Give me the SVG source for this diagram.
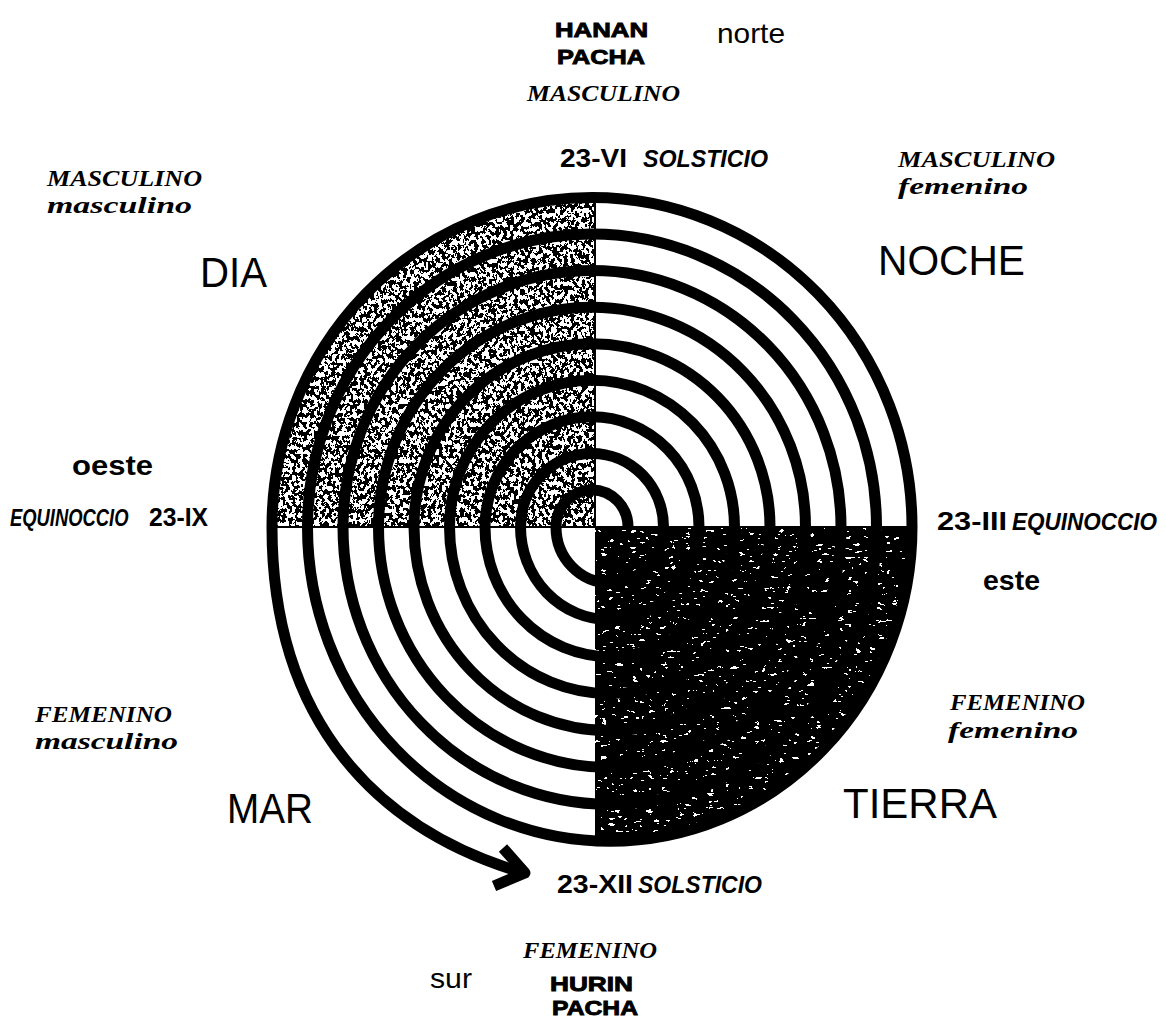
<svg xmlns="http://www.w3.org/2000/svg" width="1166" height="1020" viewBox="0 0 1166 1020">
  <defs>
    <filter id="stipple" x="0" y="0" width="1" height="1" color-interpolation-filters="sRGB">
      <feTurbulence type="fractalNoise" baseFrequency="0.28 0.22" numOctaves="3" seed="7" result="n"/>
      <feColorMatrix in="n" type="matrix" values="0 0 0 0 0  0 0 0 0 0  0 0 0 0 0  1 0 0 0 0" result="a"/>
      <feComponentTransfer in="a" result="t"><feFuncA type="discrete" tableValues="0 0 0 0 0 1 1 1 1 1"/></feComponentTransfer>
      <feComposite in="t" in2="SourceGraphic" operator="in"/>
    </filter>
    <filter id="specks" x="0" y="0" width="1" height="1" color-interpolation-filters="sRGB">
      <feTurbulence type="fractalNoise" baseFrequency="0.13 0.3" numOctaves="3" seed="3" result="n"/>
      <feColorMatrix in="n" type="matrix" values="0 0 0 0 1  0 0 0 0 1  0 0 0 0 1  1 0 0 0 0" result="a"/>
      <feComponentTransfer in="a" result="t"><feFuncA type="discrete" tableValues="0 0 0 0 0 0 0 1 1 1"/></feComponentTransfer>
      <feComposite in="t" in2="SourceGraphic" operator="in"/>
    </filter>
    <style>
      .arc { fill: none; stroke: #000; stroke-width: 11; stroke-linecap: butt; stroke-linejoin: round; }
      .axis { stroke: #000; stroke-width: 2; fill: none; }
      .big { font-family: "Liberation Sans", Arial, sans-serif; font-size: 42px; fill: #000; }
      .dir { font-family: "Liberation Sans", Arial, sans-serif; font-size: 28px; fill: #000; }
      .dirb { font-family: "Liberation Sans", Arial, sans-serif; font-size: 28px; font-weight: bold; fill: #000; }
      .date { font-family: "Liberation Sans", Arial, sans-serif; font-size: 26px; font-weight: bold; fill: #000; }
      .ev { font-family: "Liberation Sans", Arial, sans-serif; font-size: 23px; font-weight: bold; font-style: italic; fill: #000; }
      .hand { font-family: "Liberation Serif", "Times New Roman", serif; font-size: 23px; font-weight: bold; font-style: italic; fill: #000; }
      .pacha { font-family: "Liberation Sans", Arial, sans-serif; font-size: 21px; font-weight: bold; fill: #000; stroke: #000; stroke-width: 0.9; }
    </style>
  </defs>

  <rect x="0" y="0" width="1166" height="1020" fill="#fff"/>

  <g id="quadrants">
    <path d="M 595 527 L 272 527 A 320 329.6 0 0 1 595 197.6 Z" fill="#000" filter="url(#stipple)"/>
    <path d="M 595 527 L 912 527 A 302.25 314.3 0 0 1 609.75 841.3 L 595 840.9 Z" fill="#000"/>
    <path d="M 595 527 L 912 527 A 302.25 314.3 0 0 1 609.75 841.3 L 595 840.9 Z" fill="#000" filter="url(#specks)"/>
    <line class="axis" x1="595" y1="197" x2="595" y2="527"/>
    <line class="axis" x1="272" y1="527" x2="912" y2="527"/>
  </g>

  <g id="connectors">
    <path id="spiral" class="arc" d="M 628 527
      A 36 37.1 0 0 0 556 527
      A 53.75 55.9 0 0 0 663.5 527
      A 71.5 73.6 0 0 0 520.5 527
      A 89.25 92.8 0 0 0 699 527
      A 107 110.2 0 0 0 485 527
      A 124.75 129.7 0 0 0 734.5 527
      A 142.5 146.8 0 0 0 449.5 527
      A 160.25 166.7 0 0 0 770 527
      A 178 183.3 0 0 0 414 527
      A 195.75 203.6 0 0 0 805.5 527
      A 213.5 219.9 0 0 0 378.5 527
      A 231.25 240.5 0 0 0 841 527
      A 249 256.5 0 0 0 343 527
      A 266.75 277.4 0 0 0 876.5 527
      A 284.5 293 0 0 0 307.5 527
      A 302.25 314.3 0 0 0 912 527
      A 320 329.6 0 0 0 272 527
      C 272 727 383 830.3 519 871.5"/>
    <path id="arrowhead" class="arc" d="M 503 848 L 525 873 L 494 886"/>
  </g>

  <g id="label-top">
    <text class="pacha" x="555" y="37" textLength="93" lengthAdjust="spacingAndGlyphs">HANAN</text>
    <text class="pacha" x="557" y="64" textLength="88" lengthAdjust="spacingAndGlyphs">PACHA</text>
    <text class="hand" x="527" y="101" textLength="153" lengthAdjust="spacingAndGlyphs">MASCULINO</text>
    <text class="dir" x="717" y="43" textLength="68" lengthAdjust="spacingAndGlyphs">norte</text>
    <text class="date" x="560" y="167" textLength="67" lengthAdjust="spacingAndGlyphs">23-VI</text>
    <text class="ev" x="643" y="167" textLength="125" lengthAdjust="spacingAndGlyphs">SOLSTICIO</text>
  </g>

  <g id="label-dia">
    <text class="hand" x="47" y="186" textLength="155" lengthAdjust="spacingAndGlyphs">MASCULINO</text>
    <text class="hand" x="47" y="213" textLength="145" lengthAdjust="spacingAndGlyphs">masculino</text>
    <text class="big" x="200" y="287" textLength="67" lengthAdjust="spacingAndGlyphs">DIA</text>
  </g>

  <g id="label-noche">
    <text class="hand" x="898" y="167" textLength="157" lengthAdjust="spacingAndGlyphs">MASCULINO</text>
    <text class="hand" x="898" y="194" textLength="130" lengthAdjust="spacingAndGlyphs">femenino</text>
    <text class="big" x="878" y="275" textLength="147" lengthAdjust="spacingAndGlyphs">NOCHE</text>
  </g>

  <g id="label-oeste">
    <text class="dirb" x="72" y="475" textLength="81" lengthAdjust="spacingAndGlyphs">oeste</text>
    <text class="ev" transform="translate(10 526) scale(0.8 1)">EQUINOCCIO</text>
    <text class="date" x="149" y="526" textLength="59" lengthAdjust="spacingAndGlyphs">23-IX</text>
  </g>

  <g id="label-este">
    <text class="date" x="937" y="530" textLength="70" lengthAdjust="spacingAndGlyphs">23-III</text>
    <text class="ev" x="1012" y="530" textLength="145" lengthAdjust="spacingAndGlyphs">EQUINOCCIO</text>
    <text class="dirb" x="983" y="590" textLength="57" lengthAdjust="spacingAndGlyphs">este</text>
  </g>

  <g id="label-mar">
    <text class="hand" x="35" y="722" textLength="137" lengthAdjust="spacingAndGlyphs">FEMENINO</text>
    <text class="hand" x="35" y="749" textLength="143" lengthAdjust="spacingAndGlyphs">masculino</text>
    <text class="big" x="227" y="823" textLength="86" lengthAdjust="spacingAndGlyphs">MAR</text>
  </g>

  <g id="label-tierra">
    <text class="hand" x="950" y="710" textLength="135" lengthAdjust="spacingAndGlyphs">FEMENINO</text>
    <text class="hand" x="948" y="738" textLength="130" lengthAdjust="spacingAndGlyphs">femenino</text>
    <text class="big" x="843" y="818" textLength="154" lengthAdjust="spacingAndGlyphs">TIERRA</text>
  </g>

  <g id="label-bottom">
    <text class="date" x="557" y="893" textLength="76" lengthAdjust="spacingAndGlyphs">23-XII</text>
    <text class="ev" x="638" y="893" textLength="124" lengthAdjust="spacingAndGlyphs">SOLSTICIO</text>
    <text class="hand" x="523" y="958" textLength="134" lengthAdjust="spacingAndGlyphs">FEMENINO</text>
    <text class="dir" x="430" y="988" textLength="42" lengthAdjust="spacingAndGlyphs">sur</text>
    <text class="pacha" x="550" y="991" textLength="83" lengthAdjust="spacingAndGlyphs">HURIN</text>
    <text class="pacha" x="552" y="1015" textLength="86" lengthAdjust="spacingAndGlyphs">PACHA</text>
  </g>
</svg>
